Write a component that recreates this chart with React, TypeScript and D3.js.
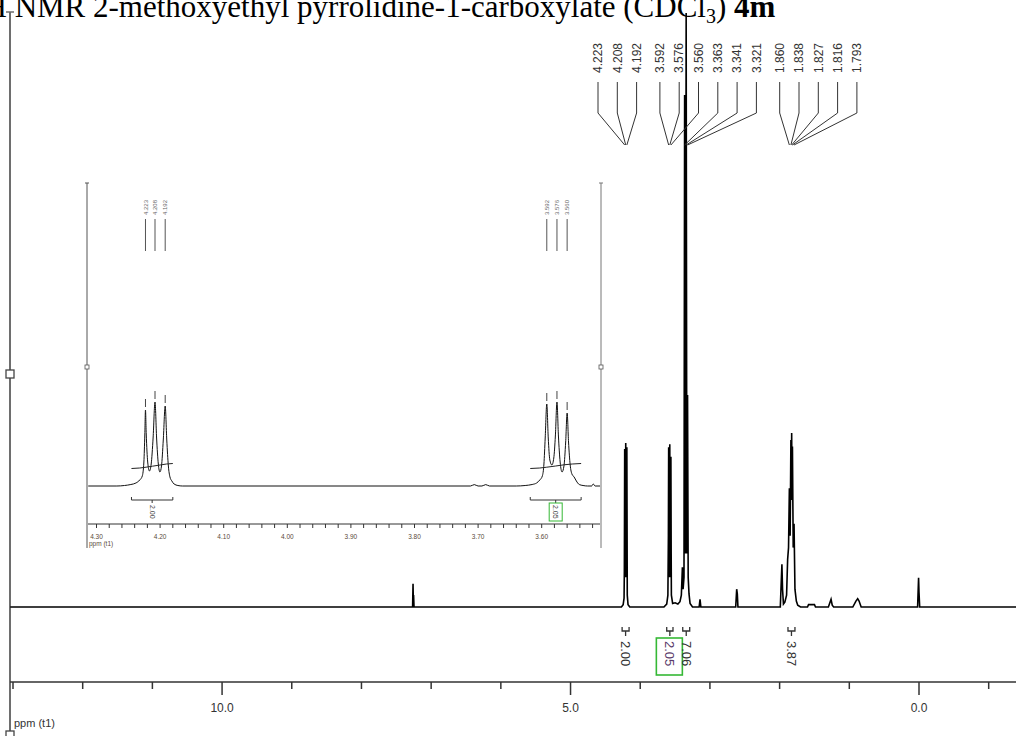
import React from 'react';
import * as d3 from 'd3';

// ---------- data ----------
// main 1H spectrum trace: [ppm, relative intensity]
const mainSpectrum: [number, number][] = [
  [13.04, 0], [7.30, 0], [7.266, 0], [7.26, 3.9], [7.256, 1.2], [7.252, 2.0], [7.246, 0], [4.27, 0],
  [4.245, 0.4], [4.232, 1.5], [4.228, 6], [4.225, 18], [4.223, 26.6], [4.219, 12], [4.216, 5], [4.212, 14], [4.208, 27.6], [4.204, 12], [4.200, 5], [4.196, 14],
  [4.192, 26.9], [4.188, 10], [4.186, 2], [4.175, 0.4], [4.15, 0], [3.66, 0], [3.62, 0.5], [3.603, 2],
  [3.596, 12], [3.592, 26.9], [3.588, 12], [3.584, 5], [3.580, 14], [3.576, 27.4], [3.572, 12], [3.568, 5], [3.564, 12], [3.560, 25.3], [3.556, 9], [3.553, 2], [3.535, 0.6],
  [3.50, 0.7], [3.46, 0.5], [3.43, 0.9], [3.41, 2], [3.395, 6.7], [3.385, 3], [3.372, 5],
  [3.363, 86.2], [3.352, 9], [3.341, 100], [3.331, 9], [3.321, 35.7], [3.312, 5], [3.30, 2.2],
  [3.285, 0.6], [3.25, 0], [3.155, 0], [3.142, 1.3], [3.130, 0], [2.63, 0], [2.616, 3.0],
  [2.607, 2.2], [2.598, 0], [1.99, 0], [1.967, 7.2], [1.958, 3], [1.945, 0.5], [1.925, 0.8],
  [1.90, 2], [1.885, 8], [1.872, 10], [1.860, 20], [1.849, 12], [1.838, 28.1], [1.832, 18],
  [1.827, 29.3], [1.822, 18], [1.816, 27], [1.805, 10], [1.793, 14], [1.78, 3], [1.76, 1],
  [1.74, 0.3], [1.70, 0], [1.60, 0], [1.585, 0.4], [1.50, 0.4], [1.485, 0], [1.30, 0],
  [1.262, 1.3], [1.245, 0.3], [1.225, 0], [0.95, 0], [0.905, 1], [0.88, 1.4], [0.86, 1],
  [0.83, 0], [0.02, 0], [0.006, 4.9], [0.0, 2.5], [-0.01, 0], [-1.40, 0],
];

// peak picking labels (main)
const peakLabelPpm = [4.223, 4.208, 4.192, 3.592, 3.576, 3.560, 3.363, 3.341, 3.321, 1.860, 1.838, 1.827, 1.816, 1.793];
const peakLabelGroup = [0, 0, 0, 1, 1, 1, 1, 1, 1, 2, 2, 2, 2, 2];

// integrals (main)
const integralFrom = [4.26, 3.62, 3.39, 1.88];
const integralTo = [4.16, 3.53, 3.29, 1.78];
const integralValue = ['2.00', '2.05', '7.06', '3.87'];
const integralHighlighted = [false, true, false, false];

// main axis
const axisTickPpm = [13, 12, 11, 10, 9, 8, 7, 6, 5, 4, 3, 2, 1, 0, -1];
const axisLabelPpm = [10, 5, 0];

// inset expansion trace: [ppm, intensity]
const insetSpectrum: [number, number][] = [
  [4.313, 0], [4.268, 0], [4.256, 0.5], [4.246, 1.5], [4.238, 3], [4.232, 6], [4.228, 10],
  [4.2255, 24], [4.2240, 52], [4.223, 76], [4.2218, 52], [4.2195, 24], [4.2168, 15],
  [4.2140, 22], [4.2110, 48], [4.208, 84], [4.2055, 48], [4.2028, 22], [4.2003, 14],
  [4.1978, 20], [4.1950, 46], [4.192, 80], [4.1895, 46], [4.1870, 20], [4.1845, 9],
  [4.1815, 5], [4.178, 2], [4.172, 0.5], [4.165, 0], [3.712, 0], [3.706, 1.4], [3.700, 0],
  [3.694, 0], [3.688, 1.4], [3.682, 0], [3.640, 0], [3.626, 0.5], [3.615, 1.5], [3.608, 3],
  [3.603, 6], [3.599, 10], [3.5965, 22], [3.5945, 48], [3.592, 82], [3.5897, 48],
  [3.5872, 26], [3.5840, 21], [3.5810, 28], [3.5785, 50], [3.576, 84], [3.5737, 50],
  [3.5710, 24], [3.5680, 14], [3.5650, 20], [3.5623, 44], [3.560, 73], [3.5578, 44],
  [3.5552, 21], [3.5525, 12], [3.5490, 9], [3.5455, 5], [3.541, 1.5], [3.535, 0.5],
  [3.528, 0], [3.5215, 0], [3.519, 2], [3.516, 0], [3.5083, 0],
];
const insetPeakPpm = [4.223, 4.208, 4.192, 3.592, 3.576, 3.560];
const insetPeakHeight = [76, 84, 80, 82, 84, 73];
const insetAxisLabels = [4.30, 4.20, 4.10, 4.00, 3.90, 3.80, 3.70, 3.60];
const insetMinorTicks = d3.range(3.52, 4.311, 0.02);
const insetIntegralFrom = [4.245, 3.618];
const insetIntegralTo = [4.180, 3.538];
const insetIntegralValue = ['2.00', '2.05'];
const insetIntegralHighlighted = [false, true];
// running integral curves: [ppm, level]
const insetIntegralCurve1: [number, number][] = [
  [4.245, 17.5], [4.232, 18], [4.222, 18.8], [4.212, 19.8], [4.200, 21], [4.190, 22], [4.180, 22.5],
];
const insetIntegralCurve2: [number, number][] = [
  [3.618, 17.5], [3.603, 18], [3.592, 18.8], [3.578, 20], [3.565, 21.2], [3.552, 22], [3.538, 22.5],
];

// ---------- component ----------
export default function App() {
  const W = 1016, H = 736;
  const sans = '"Liberation Sans", Arial, sans-serif';

  // main scales
  const x = d3.scaleLinear().domain([13, 0]).range([13, 919]);
  const y = d3.scaleLinear().domain([0, 100]).range([607, 13]);
  const mainLine = d3.line<[number, number]>().x(d => x(d[0])).y(d => y(d[1]));

  // inset scales
  const ix = d3.scaleLinear().domain([4.30, 3.60]).range([96.5, 541.7]);
  const iy = d3.scaleLinear().domain([0, 100]).range([486, 386]);
  const insetLine = d3.line<[number, number]>().x(d => ix(d[0])).y(d => iy(d[1])).curve(d3.curveMonotoneX);
  const integralLine = d3.line<[number, number]>().x(d => ix(d[0])).y(d => iy(d[1])).curve(d3.curveMonotoneX);

  const axisY = 682;
  const labelBaseY = 73;
  const labelX = (i: number) => 598 + i * 19.3 + peakLabelGroup[i] * 4;

  const insetAxisY = 524;

  return (
    <svg width={W} height={H} style={{ position: 'fixed', left: 0, top: 0, background: '#fff' }}
      xmlns="http://www.w3.org/2000/svg">
      <rect x={0} y={0} width={W} height={H} fill="#fff" />

      {/* title */}
      <text x={-25} y={17} fontFamily='"Liberation Serif", "Times New Roman", serif' fontSize={31} fill="#000">
        <tspan fontSize={19} dy={-11}>1</tspan>
        <tspan dy={11}>H NMR 2-methoxyethyl pyrrolidine-1-carboxylate (CDCl</tspan>
        <tspan fontSize={20} dy={6}>3</tspan>
        <tspan dy={-6}>) </tspan>
        <tspan fontWeight="bold">4m</tspan>
      </text>

      {/* left frame line */}
      <line x1={10} y1={12} x2={10} y2={H} stroke="#6e6e6e" strokeWidth={2} />
      <line x1={6} y1={12} x2={14} y2={12} stroke="#6e6e6e" strokeWidth={1.5} />
      <rect x={6} y={370} width={8} height={8} fill="#fff" stroke="#444" strokeWidth={1.3} />
      <rect x={6} y={731} width={8} height={8} fill="#fff" stroke="#444" strokeWidth={1.3} />

      {/* main spectrum */}
      <path d={mainLine(mainSpectrum) || ''} fill="none" stroke="#000" strokeWidth={1.6} />

      {/* peak labels and connectors */}
      {peakLabelPpm.map((p, i) => {
        const lx = labelX(i);
        return (
          <g key={'pl' + i}>
            <text transform={`translate(${lx},${labelBaseY}) rotate(-90)`} dy="0.35em"
              fontFamily={sans} fontSize={12} fill="#333">{p.toFixed(3)}</text>
            <path d={`M${lx},82 V113 L${x(p)},145`} fill="none" stroke="#333" strokeWidth={1} />
          </g>
        );
      })}

      {/* main integrals */}
      {integralValue.map((v, i) => {
        const x1 = x(integralFrom[i]), x2 = x(integralTo[i]);
        const cx = (x1 + x2) / 2;
        return (
          <g key={'int' + i}>
            <path d={`M${x1},627 V631 H${x2} V627 M${cx},631 V636`} fill="none" stroke="#333" strokeWidth={1.3} />
            <text transform={`translate(${cx},641) rotate(90)`} dy="0.35em" fontFamily={sans}
              fontSize={13} fill={integralHighlighted[i] ? '#5b3b6b' : '#333'}>{v}</text>
            {integralHighlighted[i] && (
              <rect x={cx - 13.5} y={638} width={26} height={37} fill="none" stroke="#35b835" strokeWidth={1.6} />
            )}
          </g>
        );
      })}

      {/* main axis */}
      <line x1={10} y1={axisY} x2={W} y2={axisY} stroke="#333" strokeWidth={1.5} />
      {axisTickPpm.map(t => (
        <line key={'t' + t} x1={x(t)} x2={x(t)} y1={axisY}
          y2={axisY + (axisLabelPpm.includes(t) ? 13 : 7)} stroke="#333" strokeWidth={1.5} />
      ))}
      {axisLabelPpm.map(t => (
        <text key={'al' + t} x={x(t)} y={712} textAnchor="middle" fontFamily={sans} fontSize={12} fill="#333">
          {t.toFixed(1)}
        </text>
      ))}
      <text x={14} y={727} fontFamily={sans} fontSize={11} fill="#333">ppm (t1)</text>

      {/* ---------- inset ---------- */}
      <line x1={87} y1={183} x2={87} y2={548} stroke="#555" strokeWidth={1} />
      <line x1={85} y1={183} x2={89} y2={183} stroke="#555" strokeWidth={1} />
      <rect x={85} y={365} width={4} height={4} fill="#fff" stroke="#555" strokeWidth={0.8} />
      <line x1={601} y1={183} x2={601} y2={548} stroke="#777" strokeWidth={1} />
      <line x1={599} y1={183} x2={603} y2={183} stroke="#777" strokeWidth={1} />
      <rect x={599} y={365} width={4} height={4} fill="#fff" stroke="#555" strokeWidth={0.8} />

      <path d={insetLine(insetSpectrum) || ''} fill="none" stroke="#111" strokeWidth={1} />

      {/* inset peak markers and labels */}
      {insetPeakPpm.map((p, i) => (
        <g key={'ip' + i}>
          <line x1={ix(p)} x2={ix(p)} y1={iy(insetPeakHeight[i]) - 11} y2={iy(insetPeakHeight[i]) - 3}
            stroke="#444" strokeWidth={1} />
          <line x1={ix(p)} x2={ix(p)} y1={219} y2={251} stroke="#555" strokeWidth={1} />
          <text transform={`translate(${ix(p)},215) rotate(-90)`} dy="0.35em" fontFamily={sans}
            fontSize={6} fill="#666">{p.toFixed(3)}</text>
        </g>
      ))}

      {/* inset integrals */}
      <path d={integralLine(insetIntegralCurve1) || ''} fill="none" stroke="#222" strokeWidth={1} />
      <path d={integralLine(insetIntegralCurve2) || ''} fill="none" stroke="#222" strokeWidth={1} />
      {insetIntegralValue.map((v, i) => {
        const x1 = ix(insetIntegralFrom[i]), x2 = ix(insetIntegralTo[i]);
        const cx = (x1 + x2) / 2;
        return (
          <g key={'ii' + i}>
            <path d={`M${x1},497 V500 H${x2} V497 M${cx},500 V503`} fill="none" stroke="#333" strokeWidth={1} />
            <text transform={`translate(${cx},505) rotate(90)`} dy="0.35em" fontFamily={sans}
              fontSize={7} fill="#444">{v}</text>
            {insetIntegralHighlighted[i] && (
              <rect x={cx - 6.5} y={503} width={13} height={18} fill="none" stroke="#35b835" strokeWidth={1} />
            )}
          </g>
        );
      })}

      {/* inset axis */}
      <line x1={88} y1={insetAxisY} x2={600} y2={insetAxisY} stroke="#333" strokeWidth={1} />
      {insetMinorTicks.map((t, i) => (
        <line key={'imt' + i} x1={ix(t)} x2={ix(t)} y1={insetAxisY} y2={insetAxisY + 4} stroke="#333" strokeWidth={1} />
      ))}
      {insetAxisLabels.map(t => (
        <text key={'ial' + t} x={ix(t)} y={insetAxisY + 15} textAnchor="middle" fontFamily={sans}
          fontSize={6.5} fill="#5a4a3a">{t.toFixed(2)}</text>
      ))}
      <text x={89} y={insetAxisY + 22} fontFamily={sans} fontSize={6.5} fill="#5a4a3a">ppm (t1)</text>
    </svg>
  );
}
